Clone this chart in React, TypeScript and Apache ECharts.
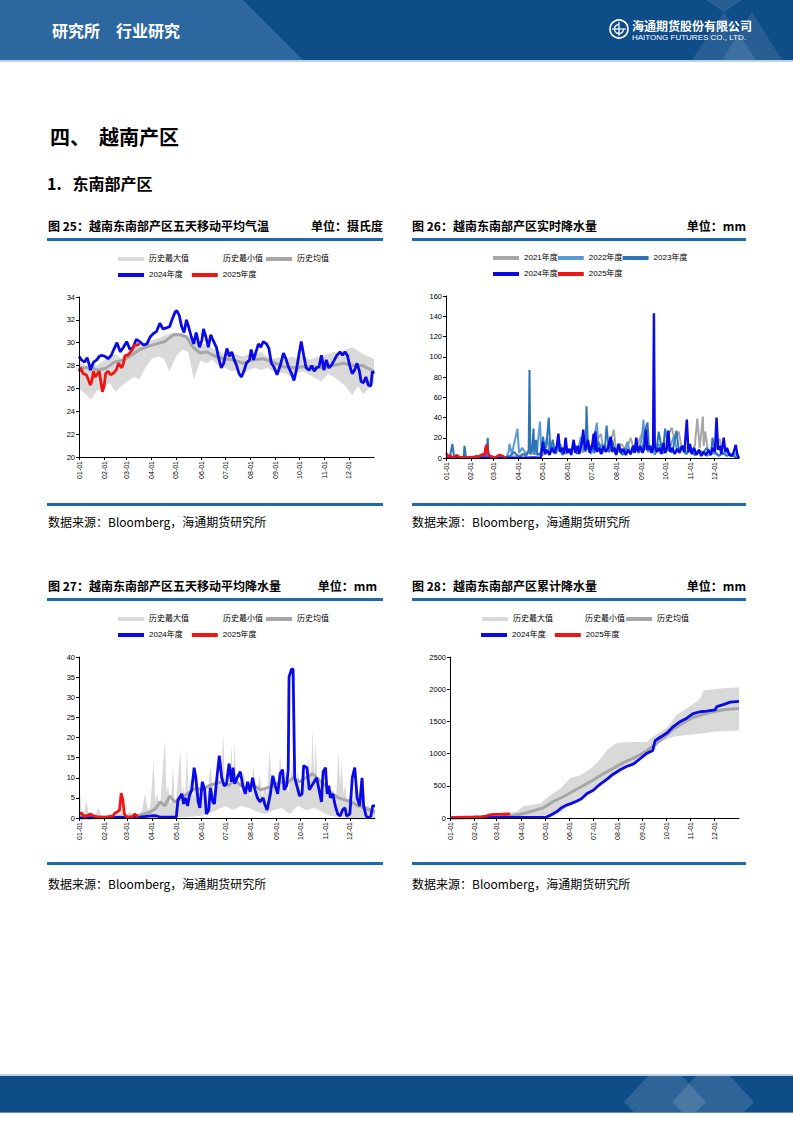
import React, { useEffect, useRef } from 'react';
import * as echarts from 'echarts';

// ---------- axis ----------
const MONTH_DAYS = [0, 31, 59, 90, 120, 151, 181, 212, 243, 273, 304, 334];
const MONTH_LABELS = ['01-01', '02-01', '03-01', '04-01', '05-01', '06-01', '07-01', '08-01', '09-01', '10-01', '11-01', '12-01'];

// ---------- 图25 五天移动平均气温 ----------
const tempDays2024 = [0,3,7,10,13,14,18,22,25,28,32,36,40,43,47,51,55,59,63,67,71,75,80,84,88,92,96,100,104,108,112,115,119,121,124,127,130,133,136,139,142,145,149,152,154,157,160,163,166,170,173,176,179,183,186,189,192,195,198,201,204,207,211,213,216,219,222,225,228,232,235,238,241,245,249,253,256,259,263,266,269,272,275,278,281,285,288,291,294,297,300,303,306,309,312,316,319,323,326,329,332,335,338,341,344,347,349,352,355,358,361,363,365];
const temp2024 = [28.8,28.5,28.3,28.7,28.0,27.6,28.3,28.5,28.8,28.9,28.8,28.6,28.9,29.4,30.0,29.2,29.6,30.1,29.4,29.6,30.3,30.1,29.8,29.9,30.5,30.8,31.0,31.7,31.2,31.3,31.4,32.0,32.7,32.8,32.4,31.4,30.9,32.0,31.3,30.5,29.9,30.9,29.6,30.2,31.2,30.5,29.6,30.7,30.2,29.6,28.6,27.8,28.2,29.5,28.8,29.2,28.5,28.0,27.3,27.0,27.5,28.2,28.5,29.4,28.5,29.2,29.9,29.6,30.1,29.9,29.5,28.2,27.9,27.2,28.0,29.1,28.6,27.9,27.3,26.7,27.6,28.9,30.1,28.9,27.8,27.6,28.0,27.5,27.8,27.9,28.9,27.6,28.5,27.8,28.0,28.5,28.9,29.2,28.9,29.2,28.9,28.0,27.3,27.6,28.2,27.5,26.6,26.5,27.0,26.3,26.2,27.5,27.3];
const tempDays2025 = [0,2,5,9,12,14,16,18,20,23,25,27,29,31,33,36,39,42,46,49,51,53,55,57,60,63,66,69,72,75];
const temp2025 = [27.5,27.8,27.3,27.2,26.7,26.3,26.7,27.5,27.0,27.3,27.5,26.6,25.7,26.2,27.3,27.5,27.2,27.3,27.6,28.2,28.0,27.8,28.2,28.9,28.9,29.1,29.4,29.8,29.8,29.9];
const tempMeanDays = [0,14,24,34,44,55,65,75,86,96,106,117,125,133,141,150,158,166,178,191,203,215,228,240,253,265,277,290,302,314,327,339,351,365];
const tempMean = [27.8,27.8,27.6,27.8,28.3,28.5,28.9,29.4,29.7,29.9,30.1,30.7,30.7,30.5,29.6,29.1,29.2,28.9,28.6,28.5,28.2,28.5,28.6,28.3,27.9,27.8,27.9,27.9,27.8,28.0,28.2,28.0,28.0,27.5];
const tempBandDays = [0,8,15,22,30,38,45,52,60,68,75,82,90,98,105,112,120,128,135,142,150,158,165,172,180,188,195,203,210,218,225,233,240,248,255,263,270,278,285,293,300,308,315,323,330,338,345,352,358,365];
const tempMax = [28.3,28.0,28.2,28.0,28.4,28.8,29.0,28.6,29.2,29.5,29.8,29.9,30.2,30.4,30.6,30.8,30.9,30.8,30.6,30.2,30.0,29.8,29.5,29.3,29.0,29.2,29.0,28.8,29.0,28.9,29.2,28.8,28.6,28.7,28.5,28.8,28.6,28.9,28.5,28.7,28.9,29.0,29.2,29.0,29.4,29.6,29.3,29.0,28.8,28.6];
const tempMin = [26.0,25.5,25.0,25.8,26.0,26.5,25.7,26.2,26.6,27.0,26.8,27.8,28.6,28.8,28.6,27.5,28.8,29.4,29.2,26.8,28.4,28.2,28.5,28.0,27.8,27.5,27.6,27.3,27.6,27.8,27.6,27.8,27.5,27.4,27.3,27.0,27.4,27.5,27.2,26.9,26.6,27.3,27.0,26.6,26.2,25.4,26.2,25.5,26.0,26.4];

// ---------- 图26 实时降水量 [day, mm] ----------
const rain2021: number[][] = [[0,0],[15,1],[30,0],[50,2],[60,0],[90,2],[100,5],[120,3],[140,8],[150,4],[160,10],[170,6],[180,12],[190,20],[193,24],[196,8],[205,16],[209,28],[212,6],[218,14],[225,8],[230,20],[235,6],[240,16],[245,26],[248,10],[255,6],[262,14],[270,8],[281,30],[285,18],[290,26],[294,8],[300,10],[305,6],[310,12],[313,39],[316,10],[320,41],[321,12],[323,26],[326,8],[330,5],[335,8],[341,19],[344,4],[350,6],[356,3],[362,5],[365,0]];
const rain2022: number[][] = [[0,0],[10,1],[20,0],[30,1],[40,2],[48,4],[52,4],[54,3],[60,1],[70,2],[75,0],[78,6],[79,14],[82,4],[86,18],[89,29],[91,5],[95,10],[100,4],[105,6],[110,14],[113,3],[117,36],[119,5],[122,10],[126,20],[129,6],[133,12],[137,4],[142,14],[146,6],[150,10],[155,4],[160,12],[164,5],[168,21],[171,6],[176,10],[181,4],[188,35],[190,8],[194,14],[200,8],[203,6],[208,12],[212,4],[217,10],[222,6],[226,16],[230,3],[235,12],[240,6],[244,20],[246,38],[248,10],[252,6],[256,12],[260,3],[265,14],[270,6],[278,8],[284,22],[288,6],[292,10],[298,4],[303,8],[310,3],[318,6],[325,2],[332,5],[340,3],[348,6],[355,2],[362,4],[365,0]];
const rain2023: number[][] = [[0,0],[5,2],[8,14],[10,1],[15,0],[22,1],[23,12],[25,0],[35,1],[45,2],[50,1],[52,20],[53,2],[55,0],[70,0],[80,2],[85,6],[88,3],[92,1],[96,4],[100,2],[103,8],[104,87],[105,4],[107,6],[109,29],[110,4],[112,18],[114,3],[118,5],[121,21],[123,6],[125,12],[128,40],[130,8],[133,18],[136,4],[140,12],[145,3],[150,10],[155,6],[160,14],[163,4],[167,10],[171,22],[174,6],[175,51],[177,8],[180,12],[185,5],[190,16],[194,4],[198,10],[200,32],[203,6],[207,18],[211,4],[215,8],[220,3],[225,9],[230,4],[235,12],[240,5],[245,10],[249,30],[251,35],[253,8],[257,12],[262,5],[265,26],[270,4],[273,29],[277,10],[282,5],[287,27],[290,8],[295,12],[300,4],[305,10],[310,3],[315,8],[320,5],[325,10],[330,3],[332,20],[335,6],[340,2],[345,5],[350,2],[355,4],[360,1],[365,0]];
const rain2024: number[][] = [[0,0],[30,0],[60,0],[90,0],[110,0.5],[118,0],[121,16],[123,4],[126,8],[129,3],[132,10],[135,5],[138,12],[140,24],[142,6],[145,10],[147,4],[149,20],[151,5],[154,9],[156,3],[159,18],[161,5],[164,12],[166,4],[169,14],[171,28],[173,8],[175,12],[177,18],[179,5],[182,12],[184,24],[185,8],[186,26],[188,6],[191,10],[193,4],[196,12],[199,6],[202,10],[205,21],[207,6],[210,10],[212,3],[215,14],[218,5],[221,9],[224,3],[227,8],[230,4],[233,12],[235,5],[237,20],[239,6],[242,12],[245,5],[247,10],[249,28],[251,8],[254,12],[256,5],[258,10],[259,143],[260,12],[263,6],[266,10],[268,4],[271,15],[273,5],[275,9],[277,27],[279,6],[282,10],[285,4],[288,9],[291,5],[294,12],[297,6],[300,38],[302,6],[304,14],[306,4],[309,10],[312,3],[315,8],[318,2],[321,6],[324,3],[327,8],[330,3],[332,10],[335,6],[337,40],[339,8],[341,12],[343,4],[346,20],[348,6],[350,10],[353,3],[356,2],[358,5],[361,13],[363,3],[365,0]];
const rain2025: number[][] = [[0,5],[1,4],[3,1],[5,3],[7,1],[10,0],[13,3],[15,2],[18,0],[22,1],[26,0],[30,1],[34,0],[38,2],[40,1],[44,3],[46,4],[48,2],[49,10],[50,12],[51,13],[52,6],[54,2],[58,1],[62,0],[64,2],[67,3],[70,2],[73,1],[75,0]];

// ---------- 图27 五天移动平均降水量 [day, mm] ----------
const ma2024: number[][] = [[0,0],[75,0.2],[92,0.6],[96,0.5],[100,0.2],[116,0.2],[120,0.3],[122,4.5],[127,6],[129,3.5],[131,5],[134,3],[136,5.5],[139,7],[142,12.5],[144,10],[147,4],[149,2.5],[152,9],[155,7],[157,1],[160,2],[162,7.5],[165,4],[167,3.5],[169,8],[173,15.5],[176,10],[179,8],[182,8.5],[185,13.5],[188,9],[190,12.5],[192,8.5],[195,10],[199,11.5],[202,8],[205,6],[208,9],[211,6.5],[214,10],[217,7],[220,5],[223,4],[227,5],[229,3.5],[232,2],[236,6],[239,10.5],[242,8],[245,6],[248,11],[251,12],[253,7],[256,8],[258,12],[259,35],[262,37],[264,37],[266,10],[268,8.5],[272,5.5],[275,6],[277,13],[281,12.5],[284,7],[287,8],[290,9],[293,10],[296,7],[299,4],[301,11.5],[304,12.5],[306,6],[308,8],[310,5],[313,6],[316,3],[319,1],[322,0.5],[325,2],[328,2.5],[330,0.5],[334,1],[337,10],[340,12.5],[343,5],[346,3],[349,10],[351,3],[354,0.5],[357,0],[360,0.5],[362,3],[365,3]];
const ma2025: number[][] = [[0,1],[3,1.2],[7,0.3],[14,1],[18,0.5],[24,0.2],[34,0.2],[42,0.5],[44,1.2],[47,1.5],[50,2],[52,6.2],[54,4.5],[56,1],[59,0.2],[65,0.2],[69,1],[73,0.2]];
const maMean: number[][] = [[0,0.8],[10,0.5],[20,0.3],[31,0.2],[45,0.2],[59,0.3],[70,0.5],[80,1.0],[88,1.5],[95,2.5],[100,4],[106,3],[112,5.5],[118,4],[124,4.5],[130,5.5],[137,6.5],[145,7.5],[152,7],[160,8],[168,8.5],[176,9],[184,8],[192,9.5],[200,8],[208,7.5],[216,8],[224,7],[232,7.5],[240,8],[248,9],[256,8.5],[264,10],[272,9],[280,10],[288,11],[296,9.5],[304,8],[312,6],[320,5],[328,4.5],[336,4],[344,3],[352,2.5],[358,2],[365,1.5]];
const maMax: number[][] = [[0,10],[3,2],[6,1],[9,4.5],[12,1],[14,0.8],[20,1],[24,2.5],[28,0.5],[34,0.5],[42,1],[51,2.5],[56,0.5],[63,1.5],[70,0.5],[75,1],[78,2],[81,6],[85,2],[88,3],[92,14.5],[94,4],[96,6],[100,3],[106,19.5],[108,6],[110,8],[113,3],[116,13],[118,4],[120,5],[125,17],[127,6],[129,8],[131,5],[133,17],[135,6],[137,10],[141,5],[145,12],[149,6],[153,7],[158,4],[162,13],[166,6],[170,12],[174,8],[178,20.5],[180,8],[182,12],[185,7],[188,18],[190,9],[192,19],[194,8],[196,10],[200,6],[203,12],[206,6],[209,9],[212,5],[215,13],[219,6],[223,11],[226,5],[229,8],[232,6],[235,17],[238,7],[242,10],[245,6],[248,16],[251,7],[254,12],[258,6],[264,15],[267,8],[270,12],[273,6],[277,14],[280,8],[283,15],[286,10],[288,22],[290,10],[292,19],[294,8],[297,10],[301,6],[305,9],[309,5],[314,7],[317,5],[320,16.5],[322,8],[324,14],[326,6],[328,8],[331,4],[334,6],[338,4],[342,10],[345,4],[349,8],[353,3],[357,3],[361,2],[365,2.5]];
const maMin: number[][] = [[0,0],[100,0],[130,0.2],[150,0.5],[160,1],[170,2],[180,3],[190,2],[200,3],[210,2.5],[220,1.5],[230,1],[240,2],[250,2.5],[260,1],[270,3],[280,2],[290,2.5],[300,1.5],[310,0.5],[320,0.3],[330,0],[365,0]];

// ---------- 图28 累计降水量 [day, mm] ----------
const cum2024: number[][] = [[0,0],[40,5],[80,8],[118,10],[122,15],[128,50],[135,100],[141,160],[147,200],[152,220],[158,250],[166,300],[173,380],[181,430],[189,520],[198,600],[206,680],[215,750],[223,800],[232,840],[240,920],[248,1000],[256,1050],[259,1200],[265,1250],[274,1320],[282,1420],[291,1500],[299,1550],[307,1620],[316,1650],[324,1660],[335,1680],[337,1730],[345,1760],[354,1800],[365,1810]];
const cum2025: number[][] = [[0,5],[10,10],[20,15],[30,18],[40,22],[46,30],[50,50],[55,55],[65,58],[76,62]];
const cumMean: number[][] = [[0,0],[63,15],[80,40],[93,70],[105,110],[118,160],[131,260],[143,330],[156,420],[168,500],[181,590],[194,690],[206,770],[219,860],[232,930],[244,1010],[257,1120],[269,1240],[282,1380],[295,1480],[307,1560],[320,1610],[333,1650],[345,1680],[365,1700]];
const cumMax: number[][] = [[0,0],[63,50],[84,100],[93,190],[114,220],[126,350],[139,450],[152,620],[164,660],[177,760],[189,900],[200,1080],[211,1170],[232,1180],[248,1180],[261,1300],[274,1400],[286,1600],[303,1730],[316,1850],[320,1980],[341,2010],[365,2030]];
const cumMin: number[][] = [[0,0],[126,0],[141,100],[152,200],[166,280],[181,410],[194,540],[206,650],[219,760],[232,820],[244,940],[257,1030],[263,1150],[269,1200],[282,1260],[299,1290],[316,1310],[333,1340],[365,1360]];

// ---------- styles ----------
const BLUE = '#0a0ae6';
const RED = '#f01414';
const MEAN = '#a6a6a6';
const BAND = '#d9d9d9';
const C2021 = '#a6a6a6';
const C2022 = '#5b9bd5';
const C2023 = '#2e75b6';
const BAR = '#1e6aa8';
const CJK = '"Noto Sans CJK SC", "Noto Sans", sans-serif';
const LAT = '"Liberation Sans", "Noto Sans CJK SC", sans-serif';

const zip = (d: number[], v: number[]) => d.map((x, i) => [x, v[i]]);

const GRIDS = [
  { left: 79, top: 297, width: 295, height: 160 },
  { left: 446, top: 296, width: 293, height: 162 },
  { left: 79, top: 657, width: 296, height: 161 },
  { left: 450, top: 657, width: 289, height: 161 },
];
const Y_RANGES = [
  { min: 20, max: 34, interval: 2 },
  { min: 0, max: 160, interval: 20 },
  { min: 0, max: 40, interval: 5 },
  { min: 0, max: 2500, interval: 500 },
];

function line(name: string, g: number, data: number[][], color: string, width: number, extra: any = {}) {
  return {
    name, type: 'line', xAxisIndex: g, yAxisIndex: g, data,
    symbol: 'none', showSymbol: false, color,
    lineStyle: { color, width }, emphasis: { disabled: true }, silent: true,
    ...extra,
  };
}
function area(name: string, g: number, data: number[][], color: string) {
  return line(name, g, data, color, 0, {
    lineStyle: { color, width: 0, opacity: 0 },
    areaStyle: { color, opacity: 1 },
  });
}

const LEG_COLORS: Record<string, string> = {
  '历史最大值': BAND, '历史最小值': '#ffffff', '历史均值': MEAN,
  '2024年度': BLUE, '2025年度': RED, '2021年度': C2021, '2022年度': C2022, '2023年度': C2023,
};
function legend(left: number, top: number, names: string[], gap: number) {
  return {
    left, top, orient: 'horizontal', padding: 0, itemGap: gap,
    itemWidth: 26, itemHeight: 4, icon: 'rect', selectedMode: false,
    textStyle: { fontSize: 8, color: '#000', fontFamily: LAT },
    data: names.map((n) => ({ name: n, itemStyle: { color: LEG_COLORS[n], opacity: 1 } })),
  };
}

function txt(x: number, y: number, text: string, size: number, opts: any = {}) {
  return {
    type: 'text', x, y, silent: true,
    style: {
      text, fill: opts.fill || '#000', fontSize: size, fontFamily: opts.family || CJK,
      fontWeight: opts.weight || 'normal', align: opts.align || 'left', textAlign: opts.align || 'left',
      verticalAlign: 'middle', textVerticalAlign: 'middle',
    },
  };
}
function rect(x: number, y: number, w: number, h: number, fill: string) {
  return { type: 'rect', silent: true, shape: { x, y, width: w, height: h }, style: { fill } };
}
function poly(points: number[][], fill: string) {
  return { type: 'polygon', silent: true, shape: { points }, style: { fill } };
}

const LEG1 = ['历史最大值', '历史最小值', '历史均值'];
const LEG2 = ['2024年度', '2025年度'];

const option: any = {
  animation: false,
  backgroundColor: '#ffffff',
  grid: GRIDS.map((g) => ({ ...g, containLabel: false, outerBoundsMode: 'none' })),
  xAxis: GRIDS.map((_, i) => ({
    type: 'value', gridIndex: i, min: 0, max: 365, z: 5,
    axisLine: { show: true, onZero: false, lineStyle: { color: '#000', width: 1 } },
    axisTick: { show: true, length: 3, customValues: MONTH_DAYS, lineStyle: { color: '#000' } },
    axisLabel: {
      show: true, customValues: MONTH_DAYS, rotate: 90, fontSize: 7, color: '#000', margin: 4, fontFamily: LAT,
      formatter: (v: number) => { const k = MONTH_DAYS.indexOf(Math.round(v)); return k >= 0 ? MONTH_LABELS[k] : ''; },
    },
    splitLine: { show: false },
  })),
  yAxis: Y_RANGES.map((r, i) => ({
    type: 'value', gridIndex: i, ...r, z: 5,
    axisLine: { show: true, lineStyle: { color: '#000', width: 1 } },
    axisTick: { show: true, length: 3, lineStyle: { color: '#000' } },
    axisLabel: { fontSize: 7.5, color: '#000', margin: 4, fontFamily: LAT, formatter: (v: number) => String(v) },
    splitLine: { show: false },
  })),
  legend: [
    legend(118, 255, LEG1, 3), legend(118, 271, LEG2, 9),
    legend(493, 254, ['2021年度', '2022年度', '2023年度'], 0), legend(493, 270, LEG2, 0),
    legend(118, 615, LEG1, 3), legend(118, 631, LEG2, 9),
    legend(482, 615, LEG1, 1), legend(481, 631, LEG2, 9),
  ],
  series: [
    // 图25
    area('历史最大值', 0, zip(tempBandDays, tempMax), BAND),
    area('历史最小值', 0, zip(tempBandDays, tempMin), '#ffffff'),
    line('历史均值', 0, zip(tempMeanDays, tempMean), MEAN, 3),
    line('2024年度', 0, zip(tempDays2024, temp2024), BLUE, 2.8),
    line('2025年度', 0, zip(tempDays2025, temp2025), RED, 2.8),
    // 图26
    line('2021年度', 1, rain2021, C2021, 2),
    line('2022年度', 1, rain2022, C2022, 2),
    line('2023年度', 1, rain2023, C2023, 2),
    line('2024年度', 1, rain2024, BLUE, 2.4),
    line('2025年度', 1, rain2025, RED, 2.4),
    // 图27
    area('历史最大值', 2, maMax, BAND),
    area('历史最小值', 2, maMin, '#ffffff'),
    line('历史均值', 2, maMean, MEAN, 3),
    line('2024年度', 2, ma2024, BLUE, 2.8),
    line('2025年度', 2, ma2025, RED, 2.8),
    // 图28
    area('历史最大值', 3, cumMax, BAND),
    area('历史最小值', 3, cumMin, '#ffffff'),
    line('历史均值', 3, cumMean, MEAN, 3),
    line('2024年度', 3, cum2024, BLUE, 2.8),
    line('2025年度', 3, cum2025, RED, 2.8),
  ],
  graphic: {
    elements: [
      // header
      rect(0, 0, 793, 60, '#0f4d89'),
      poly([[0, 0], [243, 0], [303, 60], [0, 60]], '#2d67a0'),
      poly([[692, 60], [724, 12], [756, 60]], 'rgba(255,255,255,0.10)'),
      poly([[722, 60], [752, 12], [782, 60]], 'rgba(255,255,255,0.10)'),
      poly([[706, 0], [724, 12], [742, 0]], 'rgba(255,255,255,0.10)'),
      rect(0, 60, 793, 2, '#b9d3ea'),
      txt(52, 30, '研究所　行业研究', 16, { fill: '#ffffff', weight: 'bold' }),
      { type: 'circle', silent: true, shape: { cx: 619, cy: 29, r: 9 }, style: { fill: 'none', stroke: '#ffffff', lineWidth: 1.6 } },
      { type: 'arc', silent: true, shape: { cx: 619, cy: 29, r: 4.5, startAngle: 0, endAngle: Math.PI * 1.5 }, style: { fill: 'none', stroke: '#ffffff', lineWidth: 1.4 } },
      { type: 'line', silent: true, shape: { x1: 612, y1: 29, x2: 626, y2: 29 }, style: { stroke: '#ffffff', lineWidth: 1.2 } },
      { type: 'line', silent: true, shape: { x1: 619, y1: 22, x2: 619, y2: 36 }, style: { stroke: '#ffffff', lineWidth: 1.2 } },
      txt(632, 25, '海通期货股份有限公司', 12, { fill: '#ffffff', weight: 'bold' }),
      txt(632, 37.5, 'HAITONG FUTURES CO., LTD.', 8, { fill: '#ffffff', family: LAT }),
      // headings
      txt(50, 136, '四、  越南产区', 20, { weight: 'bold' }),
      txt(47, 183, '1.   东南部产区', 16, { weight: 'bold' }),
      // chart titles
      txt(48, 225, '图 25：越南东南部产区五天移动平均气温', 12, { weight: 'bold' }),
      txt(383, 225, '单位：摄氏度', 12, { weight: 'bold', align: 'right' }),
      txt(412, 225, '图 26：越南东南部产区实时降水量', 12, { weight: 'bold' }),
      txt(746, 225, '单位：mm', 12, { weight: 'bold', align: 'right' }),
      txt(48, 585, '图 27：越南东南部产区五天移动平均降水量', 12, { weight: 'bold' }),
      txt(377, 585, '单位：mm', 12, { weight: 'bold', align: 'right' }),
      txt(412, 585, '图 28：越南东南部产区累计降水量', 12, { weight: 'bold' }),
      txt(746, 585, '单位：mm', 12, { weight: 'bold', align: 'right' }),
      // bars
      rect(47, 238, 336, 3, BAR), rect(412, 238, 334, 3, BAR),
      rect(47, 503, 336, 3, BAR), rect(412, 503, 334, 3, BAR),
      rect(47, 598, 336, 3, BAR), rect(412, 598, 334, 3, BAR),
      rect(47, 862, 336, 3, BAR), rect(412, 862, 334, 3, BAR),
      // sources
      txt(48, 521, '数据来源：Bloomberg，海通期货研究所', 12),
      txt(412, 521, '数据来源：Bloomberg，海通期货研究所', 12),
      txt(48, 883, '数据来源：Bloomberg，海通期货研究所', 12),
      txt(412, 883, '数据来源：Bloomberg，海通期货研究所', 12),
      // footer
      rect(0, 1074, 793, 2, '#b9d3ea'),
      rect(0, 1076, 793, 36, '#0f4d89'),
      rect(0, 1112, 793, 1, '#5f8ab8'),
      poly([[624, 1102], [648, 1076], [682, 1076], [706, 1102], [696, 1112], [634, 1112]], 'rgba(255,255,255,0.13)'),
      poly([[672, 1102], [696, 1076], [730, 1076], [754, 1102], [744, 1112], [682, 1112]], 'rgba(255,255,255,0.13)'),
    ],
  },
};

export default function App() {
  const ref = useRef<HTMLDivElement>(null);
  useEffect(() => {
    document.body.style.margin = '0';
    const chart = echarts.init(ref.current as HTMLDivElement, null, { renderer: 'svg' });
    chart.setOption(option);
    return () => chart.dispose();
  }, []);
  return <div ref={ref} style={{ width: 793, height: 1122, background: '#ffffff' }} />;
}
